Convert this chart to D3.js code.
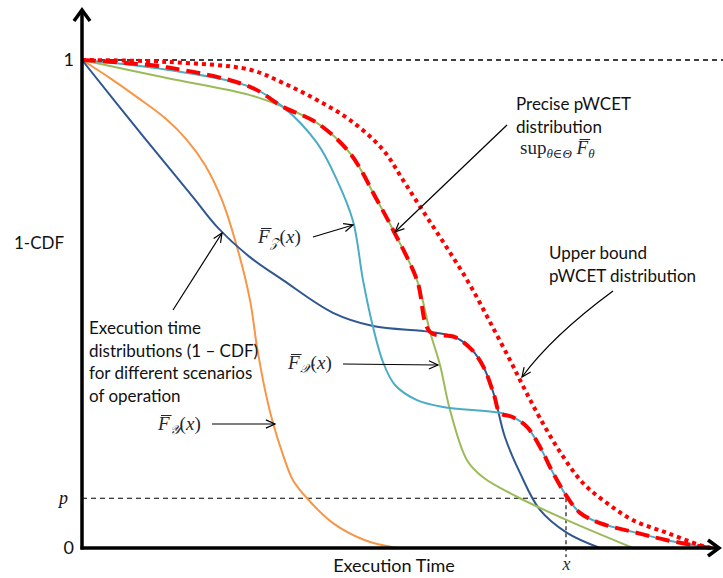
<!DOCTYPE html>
<html>
<head>
<meta charset="utf-8">
<script src="https://cdn.jsdelivr.net/npm/d3@7"></script>
<style>
  html, body { margin: 0; padding: 0; background: #ffffff; }
  svg { display: block; }
</style>
</head>
<body>
<svg id="chart" width="723" height="578"></svg>
<script>
// ---------- DATA (execution time units, 1-CDF) ----------
const orangeY = [[0,1.000],[28,0.963],[55,0.924],[83,0.881],[105,0.836],[123,0.785],[140,0.713],[155,0.617],[168,0.508],[175,0.412],[183,0.324],[191,0.256],[201,0.191],[211,0.139],[225,0.102],[251,0.051],[283,0.016],[315,0]];
const blueW = [[0,1.000],[61,0.844],[111,0.719],[136,0.656],[168,0.596],[201,0.549],[251,0.482],[291,0.455],[348,0.443],[373,0.432],[390,0.406],[402,0.369],[412,0.314],[423,0.227],[438,0.154],[458,0.078],[485,0.031],[518,0]];
const greenX = [[0,1.000],[85,0.963],[168,0.928],[201,0.904],[235,0.871],[268,0.809],[295,0.713],[311,0.652],[335,0.549],[348,0.443],[358,0.375],[368,0.283],[385,0.180],[401,0.145],[435,0.105],[485,0.057],[551,0]];
const cyanZ = [[0,1.000],[85,0.980],[168,0.945],[201,0.904],[235,0.830],[255,0.754],[271,0.670],[281,0.549],[291,0.453],[301,0.381],[313,0.334],[335,0.303],[361,0.289],[418,0.277],[431,0.268],[445,0.248],[458,0.207],[471,0.154],[485,0.105],[498,0.072],[518,0.051],[551,0.033],[585,0.016],[628,0]];
const supPrecise = [[0,1.000],[85,0.985],[168,0.945],[201,0.904],[235,0.871],[268,0.809],[295,0.713],[311,0.652],[335,0.549],[348,0.443],[373,0.432],[390,0.406],[402,0.369],[412,0.314],[418,0.277],[431,0.268],[445,0.248],[458,0.207],[471,0.154],[485,0.105],[498,0.072],[518,0.051],[551,0.033],[585,0.016],[628,0]];
const upperBound = [[0,1.000],[85,0.996],[168,0.980],[201,0.953],[235,0.918],[268,0.877],[301,0.816],[321,0.754],[343,0.684],[365,0.615],[388,0.539],[408,0.463],[428,0.385],[443,0.324],[458,0.266],[478,0.197],[501,0.133],[525,0.092],[551,0.057],[585,0.031],[618,0.006],[630,0]];
const yTickValues = [0, 0.102, 1];
const yTickLabels = ["0", "p", "1"];
const xTickValues = [484];
const xTickLabels = ["x"];
const pLevel = 0.102;
const xLevel = 484;

// ---------- SETUP ----------
const svg = d3.select("#chart");
const xS = d3.scaleLinear().domain([0, 640]).range([82, 722]);
const yS = d3.scaleLinear().domain([0, 1]).range([548, 60]);
const sansFont = "Lato, 'Open Sans', 'DejaVu Sans', sans-serif";
const serifFont = "'Liberation Serif', 'DejaVu Serif', serif";

const line = d3.line().x(d => xS(d[0])).y(d => yS(d[1])).curve(d3.curveCatmullRom.alpha(0.5));

// reference dashed lines
svg.append("line").attr("x1", xS(0)).attr("x2", 723).attr("y1", yS(1)).attr("y2", yS(1))
  .attr("stroke", "#000").attr("stroke-width", 1.3).attr("stroke-dasharray", "5,4");
svg.append("line").attr("x1", xS(0)).attr("x2", xS(xLevel)).attr("y1", yS(pLevel)).attr("y2", yS(pLevel))
  .attr("stroke", "#000").attr("stroke-width", 1.1).attr("stroke-dasharray", "5,4");
svg.append("line").attr("x1", xS(xLevel)).attr("x2", xS(xLevel)).attr("y1", yS(pLevel)).attr("y2", 557)
  .attr("stroke", "#000").attr("stroke-width", 1.1).attr("stroke-dasharray", "4,3");

// curves
const curves = [
  {d: orangeY, c: "#F79646", w: 2},
  {d: blueW, c: "#2F5791", w: 2},
  {d: greenX, c: "#9BBB59", w: 2},
  {d: cyanZ, c: "#4BACC6", w: 2},
];
curves.forEach(s => {
  svg.append("path").attr("d", line(s.d)).attr("fill", "none")
    .attr("stroke", s.c).attr("stroke-width", s.w);
});
svg.append("path").attr("d", line(supPrecise)).attr("fill", "none")
  .attr("stroke", "#FF0000").attr("stroke-width", 4).attr("stroke-dasharray", "14,7");
svg.append("path").attr("d", line(upperBound)).attr("fill", "none")
  .attr("stroke", "#FF0000").attr("stroke-width", 4).attr("stroke-dasharray", "4,4");

// axes
const axG = svg.append("g");
axG.append("line").attr("x1", xS(0)).attr("x2", xS(0)).attr("y1", yS(0) + 1.5).attr("y2", 10)
  .attr("stroke", "#000").attr("stroke-width", 3.5);
axG.append("path").attr("d", `M${xS(0)-8},21 L${xS(0)},10 L${xS(0)+8},21`)
  .attr("fill", "none").attr("stroke", "#000").attr("stroke-width", 3.5);
axG.append("line").attr("x1", xS(0) - 1.5).attr("x2", 719).attr("y1", yS(0)).attr("y2", yS(0))
  .attr("stroke", "#000").attr("stroke-width", 3.5);
axG.append("path").attr("d", `M708,${yS(0)-8} L719,${yS(0)} L708,${yS(0)+8}`)
  .attr("fill", "none").attr("stroke", "#000").attr("stroke-width", 3.5);

const yAxis = d3.axisLeft(yS).tickValues(yTickValues).tickSize(0).tickPadding(8)
  .tickFormat((d, i) => yTickLabels[i]);
const yg = svg.append("g").attr("transform", `translate(${xS(0)},0)`).call(yAxis);
yg.select(".domain").remove();
yg.selectAll("text").attr("font-family", sansFont).attr("font-size", 18).attr("fill", "#111");
yg.selectAll(".tick").filter((d, i) => yTickLabels[i] === "p").select("text")
  .attr("font-family", serifFont).attr("font-style", "italic").attr("font-size", 18).attr("dx", -6);

const xAxis = d3.axisBottom(xS).tickValues(xTickValues).tickSize(0).tickPadding(9)
  .tickFormat((d, i) => xTickLabels[i]);
const xg = svg.append("g").attr("transform", `translate(0,${yS(0)})`).call(xAxis);
xg.select(".domain").remove();
xg.selectAll("text").attr("font-family", serifFont).attr("font-style", "italic")
  .attr("font-size", 18).attr("fill", "#2a3040");

// axis titles
svg.append("text").attr("x", 39).attr("y", 249).attr("text-anchor", "middle")
  .attr("font-family", sansFont).attr("font-size", 17).attr("fill", "#111").text("1-CDF");
svg.append("text").attr("x", 394).attr("y", 572).attr("text-anchor", "middle")
  .attr("font-family", sansFont).attr("font-size", 18).attr("fill", "#111").text("Execution Time");

// plain text annotations
function textLines(x, y0, dy, lines, size) {
  lines.forEach((t, i) => {
    svg.append("text").attr("x", x).attr("y", y0 + i * dy)
      .attr("font-family", sansFont).attr("font-size", size).attr("fill", "#111").text(t);
  });
}
textLines(516, 110, 23, ["Precise pWCET", "distribution"], 17);
textLines(549, 259, 22.5, ["Upper bound", "pWCET distribution"], 17);
textLines(89, 334, 22.5, ["Execution time", "distributions (1 \u2013 CDF)", "for different scenarios", "of operation"], 17);

// math labels: F-bar with subscript
function mathLabel(x, y, sub, withArg) {
  const col = "#222633";
  const t = svg.append("text").attr("x", x).attr("y", y)
    .attr("font-family", serifFont).attr("font-size", 19).attr("fill", col);
  t.append("tspan").attr("font-style", "italic").text("F");
  t.append("tspan").attr("font-style", "italic").attr("font-size", 13).attr("dy", 4).text(sub);
  if (withArg) {
    t.append("tspan").attr("dy", -4).text("(");
    t.append("tspan").attr("font-style", "italic").text("x");
    t.append("tspan").text(")");
  }
  const n = t.node();
  const s = n.getStartPositionOfChar(0).x, e = n.getEndPositionOfChar(0).x;
  svg.append("line").attr("x1", s + 3).attr("x2", e + 2).attr("y1", y - 14.5).attr("y2", y - 14.5)
    .attr("stroke", col).attr("stroke-width", 1);
}
mathLabel(258, 243, "\uD835\uDCB5", true);   // Z
mathLabel(288, 369, "\uD835\uDCB3", true);   // X
mathLabel(158, 430, "\uD835\uDCB4", true);   // Y

// sup label
(function () {
  const col = "#222633", x = 520, y = 154;
  const t = svg.append("text").attr("x", x).attr("y", y)
    .attr("font-family", serifFont).attr("font-size", 19).attr("fill", col);
  t.append("tspan").text("sup");
  t.append("tspan").attr("font-size", 13).attr("dy", 4).attr("font-style", "italic").text("\u03B8\u2208\u0398");
  t.append("tspan").attr("dy", -4).text(" ");
  t.append("tspan").attr("font-style", "italic").text("F");
  t.append("tspan").attr("font-style", "italic").attr("font-size", 13).attr("dy", 4).text("\u03B8");
  const n = t.node();
  const s = n.getStartPositionOfChar(7).x, e = n.getEndPositionOfChar(7).x;
  svg.append("line").attr("x1", s + 3).attr("x2", e + 2).attr("y1", y - 14.5).attr("y2", y - 14.5)
    .attr("stroke", col).attr("stroke-width", 1);
})();

// arrows
function arrowHead(tip, from) {
  const ang = Math.atan2(tip[1] - from[1], tip[0] - from[0]);
  const L = 10, spread = 0.42;
  const a1 = [tip[0] - L * Math.cos(ang - spread), tip[1] - L * Math.sin(ang - spread)];
  const a2 = [tip[0] - L * Math.cos(ang + spread), tip[1] - L * Math.sin(ang + spread)];
  svg.append("path").attr("d", `M${a1[0]},${a1[1]} L${tip[0]},${tip[1]} L${a2[0]},${a2[1]}`)
    .attr("fill", "none").attr("stroke", "#000").attr("stroke-width", 1.2);
}
function straightArrow(from, tip) {
  svg.append("line").attr("x1", from[0]).attr("y1", from[1]).attr("x2", tip[0]).attr("y2", tip[1])
    .attr("stroke", "#000").attr("stroke-width", 1.2);
  arrowHead(tip, from);
}
straightArrow([507, 125], [395, 232]);
straightArrow([173, 310], [222, 233]);
straightArrow([313, 237], [353, 225]);
straightArrow([343, 364], [438, 365]);
straightArrow([212, 424], [275, 424]);
// curved arrow for upper bound
svg.append("path").attr("d", "M613,291 Q552,336 522,377").attr("fill", "none")
  .attr("stroke", "#000").attr("stroke-width", 1.2);
arrowHead([522, 377], [552, 336]);
</script>
</body>
</html>
